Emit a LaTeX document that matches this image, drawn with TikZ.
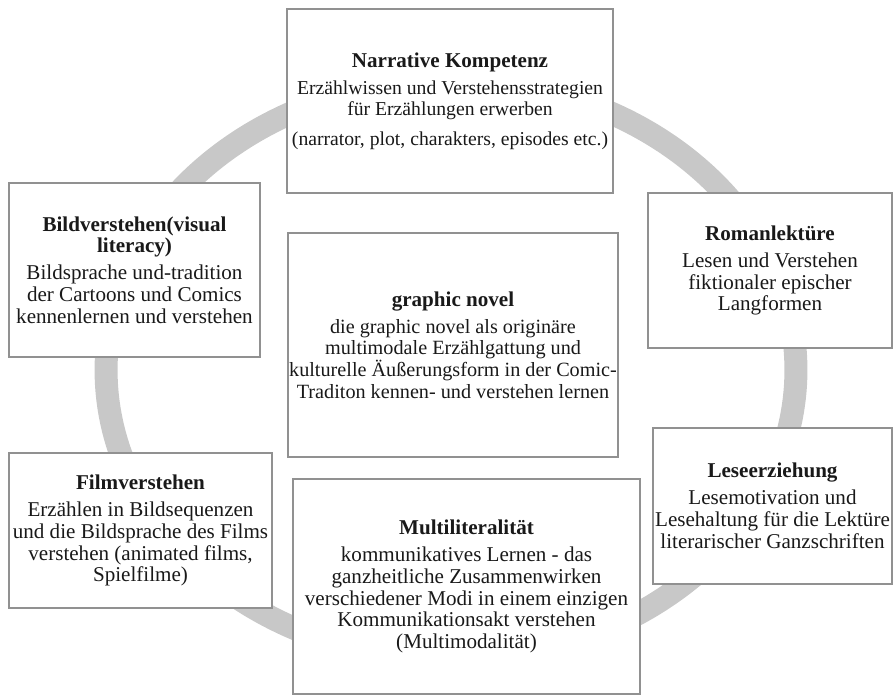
\documentclass[tikz,border=0pt]{standalone}
\usepackage{fontspec}
\setmainfont{Liberation Serif}
\usepackage{tikz}

\definecolor{ringgrey}{RGB}{200,200,200}
\definecolor{framegrey}{RGB}{145,145,145}
\definecolor{textgrey}{RGB}{25,25,25}

\newcommand{\boxhead}[1]{{\fontsize{12}{12.4}\selectfont\textbf{#1}}}

\begin{document}
\begin{tikzpicture}[x=0.02cm,y=-0.02cm,
    kbox/.style={draw=framegrey,line width=1.1pt,fill=white,align=center,
      inner sep=0pt,text=textgrey,font=\fontsize{12}{12.4}\selectfont},
    ring/.style={draw=ringgrey,line width=0.46cm}]
  \useasboundingbox (0,0) rectangle (895,696);
  \draw[ring] (451,370) ellipse [x radius=6.9cm,y radius=5.8cm];
  \node[kbox,font=\fontsize{11.2}{11.9}\selectfont,
        minimum width=6.52cm,minimum height=3.68cm] (narr) at (450,101)
    {\boxhead{Narrative Kompetenz}\\[3.5pt]
     Erzählwissen und Verstehensstrategien\\
     für Erzählungen erwerben\\[5pt]
     (narrator, plot, charakters, episodes etc.)};
  \node[kbox,minimum width=5.02cm,minimum height=3.48cm] (bild) at (134.5,270)
    {\textbf{Bildverstehen(visual}\\\textbf{literacy)}\\[3pt]
     Bildsprache und-tradition\\
     der Cartoons und Comics\\
     kennenlernen und verstehen};
  \node[kbox,minimum width=4.88cm,minimum height=3.10cm] (roman) at (770,270.5)
    {\textbf{Romanlektüre}\\[3pt]
     Lesen und Verstehen\\
     fiktionaler epischer\\
     Langformen};
  \node[kbox,font=\fontsize{11.5}{12.4}\selectfont,
        minimum width=6.60cm,minimum height=4.48cm] (graphic) at (453,345)
    {\boxhead{graphic novel}\\[3pt]
     die graphic novel als originäre\\
     multimodale Erzählgattung und\\
     kulturelle Äußerungsform in der Comic-\\
     Traditon kennen- und verstehen lernen};
  \node[kbox,minimum width=5.26cm,minimum height=3.10cm] (film) at (140.5,530.5)
    {\textbf{Filmverstehen}\\[3pt]
     Erzählen in Bildsequenzen\\
     und die Bildsprache des Films\\
     verstehen (animated films,\\
     Spielfilme)};
  \node[kbox,minimum width=4.78cm,minimum height=3.12cm] (lese) at (772.5,506)
    {\textbf{Leseerziehung}\\[3pt]
     Lesemotivation und\\
     Lesehaltung für die Lektüre\\
     literarischer Ganzschriften};
  \node[kbox,minimum width=6.94cm,minimum height=4.30cm] (multi) at (466.5,586.5)
    {\textbf{Multiliteralität}\\[3pt]
     kommunikatives Lernen - das\\
     ganzheitliche Zusammenwirken\\
     verschiedener Modi in einem einzigen\\
     Kommunikationsakt verstehen\\
     (Multimodalität)};
\end{tikzpicture}
\end{document}
